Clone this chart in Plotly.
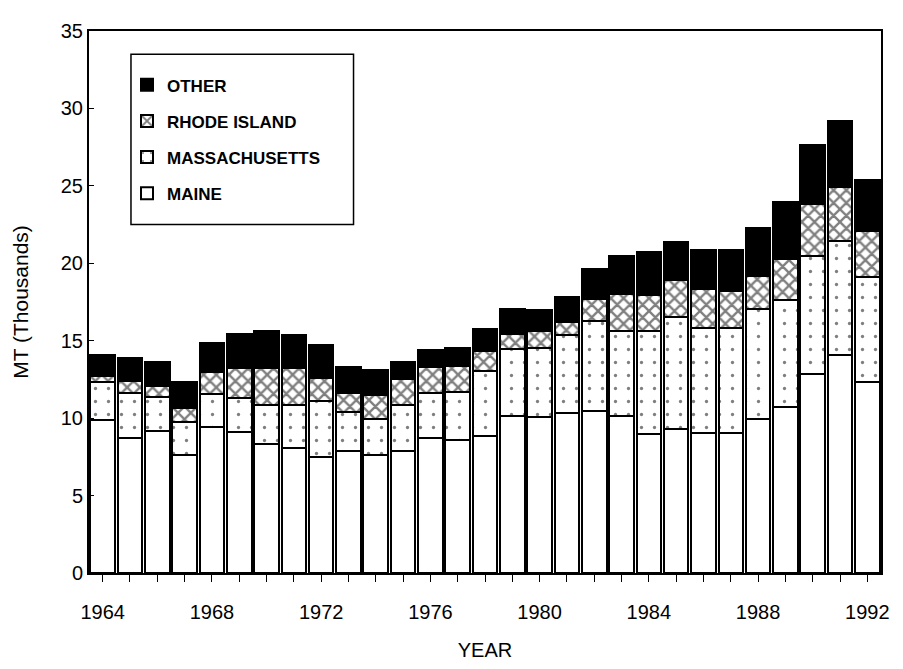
import plotly.graph_objects as go

# landings by state, thousands of metric tons
years = list(range(1964, 1993))
maine = [9.9, 8.7, 9.2, 7.65, 9.4, 9.1, 8.3, 8.1, 7.5, 7.9, 7.6, 7.85, 8.75, 8.6, 8.85,
         10.15, 10.1, 10.35, 10.45, 10.15, 9.0, 9.3, 9.05, 9.05, 9.95, 10.75, 12.85, 14.1, 12.35]
massachusetts = [2.45, 2.9, 2.15, 2.1, 2.15, 2.2, 2.55, 2.75, 3.6, 2.5, 2.35, 3.0, 2.9, 3.1, 4.2,
                 4.3, 4.45, 5.05, 5.8, 5.5, 6.6, 7.2, 6.75, 6.8, 7.1, 6.9, 7.6, 7.35, 6.75]
rhode_island = [0.4, 0.8, 0.75, 0.9, 1.4, 1.95, 2.4, 2.4, 1.5, 1.2, 1.55, 1.7, 1.65, 1.65, 1.3,
                1.0, 1.05, 0.8, 1.45, 2.35, 2.35, 2.4, 2.55, 2.35, 2.15, 2.6, 3.35, 3.45, 3.0]
other = [1.35, 1.5, 1.5, 1.7, 1.9, 2.2, 2.35, 2.15, 2.1, 1.7, 1.6, 1.05, 1.1, 1.2, 1.4,
         1.6, 1.4, 1.65, 1.9, 2.45, 2.8, 2.45, 2.5, 2.65, 3.05, 3.7, 3.85, 4.3, 3.3]
tick_labels = [str(y) if (y - 1964) % 4 == 0 else "" for y in years]

FONT = "Liberation Sans, Arial, sans-serif"
outline = dict(color="black", width=2)

fig = go.Figure()

# bottom to top: maine, massachusetts, rhode island, other
# legendrank puts OTHER first in the legend like the original
fig.add_trace(go.Bar(x=years, y=maine, name="MAINE", legendgroup="maine", legendrank=4,
                     marker=dict(color="white", line=outline)))
fig.add_trace(go.Bar(x=years, y=massachusetts, name="MASSACHUSETTS", legendgroup="mass",
                     legendrank=3,
                     marker=dict(color="white", line=outline,
                                 pattern=dict(shape=".", fgcolor="black", bgcolor="white",
                                              size=13, solidity=0.05))))
fig.add_trace(go.Bar(x=years, y=rhode_island, name="RHODE ISLAND", legendgroup="ri",
                     legendrank=2,
                     marker=dict(color="white", line=outline,
                                 pattern=dict(shape="x", fgcolor="black", bgcolor="white",
                                              size=9, solidity=0.45))))
fig.add_trace(go.Bar(x=years, y=other, name="OTHER", legendgroup="other", legendrank=1,
                     marker=dict(color="black", line=outline)))

# legend frame drawn as a box so it can be taller than plotly's own
fig.add_shape(type="rect", xref="paper", yref="paper",
              x0=0.053, x1=0.334, y0=0.643, y1=0.957,
              line=dict(color="black", width=1.5), fillcolor="white", layer="above")

# the page body has an 8px margin all round, so keep the figure inside the window
fig.update_layout(
    barmode="stack",
    bargap=0.1,
    width=887,
    height=653,
    margin=dict(l=80, r=14, t=13, b=88),
    paper_bgcolor="white",
    plot_bgcolor="white",
    font=dict(family=FONT, color="black", size=20),
    legend=dict(
        x=0.048, y=0.933, xanchor="left", yanchor="top",
        traceorder="grouped",
        bgcolor="rgba(0,0,0,0)", borderwidth=0,
        font=dict(family=FONT, size=17, color="black", weight="bold"),
        tracegroupgap=11,
        itemwidth=30,
    ),
    showlegend=True,
)

fig.update_xaxes(
    range=[1963.5, 1992.5],
    tickmode="array",
    tickvals=years,
    ticktext=tick_labels,
    ticks="outside",
    ticklen=7,
    tickcolor="black",
    ticklabelstandoff=13,
    showline=True, linecolor="black", linewidth=2, mirror=True,
    showgrid=False,
    tickfont=dict(size=20),
    title=dict(text="YEAR", font=dict(size=20), standoff=22),
    automargin=False,
)

fig.update_yaxes(
    range=[0, 35],
    tickmode="array",
    tickvals=[0, 5, 10, 15, 20, 25, 30, 35],
    ticks="inside",
    ticklen=5,
    tickcolor="black",
    showline=True, linecolor="black", linewidth=2, mirror=True,
    showgrid=False, zeroline=False,
    tickfont=dict(size=20),
    title=dict(text="MT (Thousands)", font=dict(size=21), standoff=26),
)

fig.write_html("out.html")
